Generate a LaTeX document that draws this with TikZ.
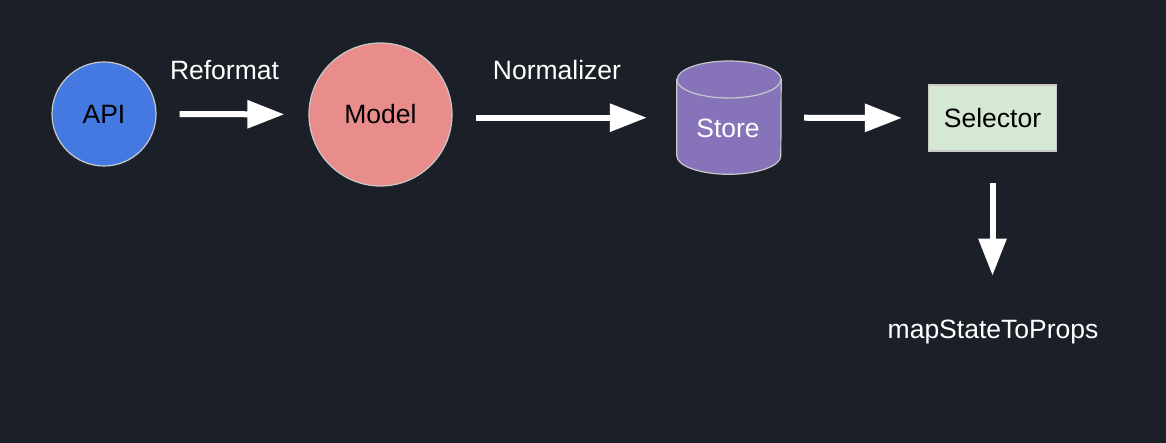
\documentclass[tikz,border=0pt]{standalone}
\usepackage{fontspec}
\setmainfont{Liberation Sans}
\usetikzlibrary{arrows.meta}
\definecolor{bg}{HTML}{1B1F27}
\definecolor{apiblue}{HTML}{4479E1}
\definecolor{modelred}{HTML}{E88D8B}
\definecolor{storepurple}{HTML}{8673BA}
\definecolor{selgreen}{HTML}{D5E8D4}
\definecolor{rim}{HTML}{C8C8C8}
\tikzset{
  arr/.style={draw=white, line width=6pt, -{Triangle[length=37pt,width=27pt]}},
  circnode/.style={circle, draw=rim, line width=1.2pt, inner sep=0pt, font=\fontsize{26.5}{30}\selectfont},
  lbl/.style={text=white, inner sep=0pt, font=\fontsize{26.5}{30}\selectfont},
}
\begin{document}
\begin{tikzpicture}[x=1pt,y=-1pt]
\fill[bg] (0,0) rectangle (1166,443);
\useasboundingbox (0,0) rectangle (1166,443);
% nodes
\node[circnode, fill=apiblue, minimum size=104pt] (api) at (104,114) {API};
\node[circnode, fill=modelred, minimum size=143pt] (model) at (380.5,114.5) {Model};
% cylinder (Store)
\node[draw=none, minimum width=104pt, minimum height=113pt, inner sep=0pt] (store) at (729,117.7) {};
\path[fill=storepurple, draw=rim, line width=1.2pt]
  (store.west |- 0,79.5) -- (store.west |- 0,155.8) arc (180:0:52 and 18.5)
  -- (store.east |- 0,79.5) arc (0:-180:52 and 18.5) -- cycle;
\draw[rim, line width=1.2pt] (store.west |- 0,79.5) arc (180:0:52 and 18.5);
\node[text=white, inner sep=0pt, font=\fontsize{26.5}{30}\selectfont] (storetext) at (728,128) {Store};
\node[draw=rim, line width=1.2pt, fill=selgreen, minimum width=128pt, minimum height=66pt, inner sep=0pt, font=\fontsize{26.5}{30}\selectfont] (sel) at (992.5,118) {Selector};
\node[lbl, anchor=base] (map) at (993,338.3) {mapStateToProps};
% edge labels
\node[lbl] (reformat) at (224.5,70) {Reformat};
\node[lbl] (normalizer) at (557,70) {Normalizer};
% connectors
\draw[arr, shorten <=23pt, shorten >=24pt] (api) -- (model);
\draw[arr, shorten <=23pt, shorten >=30pt] (model.east |- store.west) -- (store.west);
\draw[arr, shorten <=23pt, shorten >=26pt] (store.east) -- (sel.west);
\draw[arr, shorten <=31pt, shorten >=44pt] (sel.south) -- (sel.south |- map.north);
\end{tikzpicture}
\end{document}
